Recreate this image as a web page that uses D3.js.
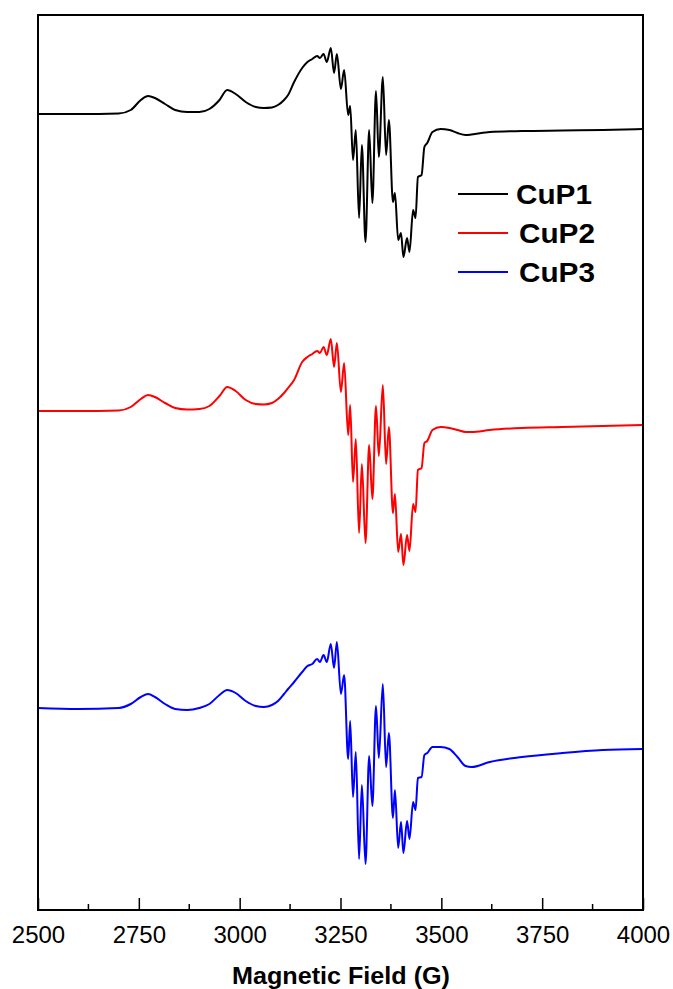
<!DOCTYPE html>
<html>
<head>
<meta charset="utf-8">
<script src="https://cdn.jsdelivr.net/npm/d3@7"></script>
<style>
  body { margin: 0; background: #fff; }
  svg { display: block; font-family: "Liberation Sans", Arial, sans-serif; }
</style>
</head>
<body>
<div id="chart"></div>
<script>
// field grid (G), shared by all three spectra
const fields = [2500, 2600, 2700, 2730, 2755, 2773, 2790, 2815, 2840, 2870, 2900, 2925, 2950, 2969, 2990,
  3015, 3040, 3060, 3080, 3095, 3110, 3120, 3135, 3155, 3168, 3180, 3192, 3199, 3208, 3216, 3226, 3234,
  3241, 3251, 3259, 3269, 3274, 3281, 3288, 3296, 3303, 3312, 3321, 3329, 3338, 3345, 3355, 3363, 3370,
  3380, 3385, 3393, 3400, 3406, 3415, 3421, 3430, 3436, 3442, 3451, 3458, 3465, 3478, 3498, 3520, 3540,
  3560, 3575, 3620, 3700, 3800, 3900, 4000];

// intensities (a.u.), relative to each baseline
const cup1 = [0, 0, 0.5, 4, 14, 18, 16, 10, 4, 2, 2, 5, 14, 24, 20,
  12, 7, 6, 6.5, 9, 14, 19, 32, 46, 52, 55, 58, 56, 60, 52, 66, 41,
  60, 25, 44, -1, 8, -46, -16, -104, -31, -128, -16, -89, 23, -43, 37, -41, -6,
  -88, -79, -126, -119, -143, -124, -138, -96, -104, -63, -61, -33, -29, -18, -15, -16, -19,
  -21, -20.5, -18, -17, -16.5, -16, -15];
const cup2 = [0, 0, 0.5, 4, 12, 16, 14, 8, 3, 1.5, 2, 5, 15, 24, 20,
  11, 7, 6.5, 8, 12, 18, 23, 31, 49, 54, 57, 60, 58, 64, 56, 72, 44,
  68, 19, 48, -24, 6, -71, -28, -122, -53, -132, -34, -88, 5, -45, 26, -53, -16,
  -102, -83, -141, -123, -154, -124, -140, -93, -101, -59, -57, -32, -30, -19, -16, -17, -19,
  -21, -21, -19, -17, -16, -15, -14];
const cup3 = [0, -1, 0, 4, 11, 14, 11, 4, -1, -2, 0, 4, 13, 18, 15,
  7, 2, 1, 3, 7, 14, 19, 26, 36, 42, 44, 49, 46, 53, 46, 64, 40,
  66, 14, 33, -51, -13, -89, -44, -151, -77, -156, -48, -98, 2, -50, 24, -59, -25,
  -110, -82, -140, -114, -145, -113, -131, -94, -102, -70, -69, -47, -45, -39, -39, -41, -49,
  -58, -59, -54, -49, -45, -42, -41];

const seriesNames = ["CuP1", "CuP2", "CuP3"];
const seriesColors = ["#000000", "#ff0000", "#0000ff"];
const seriesOffsets = [796, 499, 202];   // vertical stacking offsets (a.u.)
const xTicks = [2500, 2750, 3000, 3250, 3500, 3750, 4000];

const W = 673, H = 989;
const margin = { left: 38, right: 30, top: 15, bottom: 79 };

const svg = d3.select("#chart").append("svg")
  .attr("width", W).attr("height", H);

const x = d3.scaleLinear().domain([2500, 4000]).range([margin.left, W - margin.right]);
const y = d3.scaleLinear().domain([0, 895]).range([H - margin.bottom, margin.top]);

const allSeries = [cup1, cup2, cup3];

const line = d3.line()
  .x(d => x(d[0]))
  .y(d => y(d[1]))
  .curve(d3.curveMonotoneX);

allSeries.forEach((vals, i) => {
  const pts = fields.map((f, j) => [f, vals[j] + seriesOffsets[i]]);
  svg.append("path")
    .datum(pts)
    .attr("fill", "none")
    .attr("stroke", seriesColors[i])
    .attr("stroke-width", 2)
    .attr("stroke-linejoin", "round")
    .attr("d", line);
});

// frame
svg.append("rect")
  .attr("x", x(2500)).attr("y", y(895))
  .attr("width", x(4000) - x(2500)).attr("height", y(0) - y(895))
  .attr("fill", "none").attr("stroke", "#000").attr("stroke-width", 2);

// bottom axis, ticks inward
const xAxis = d3.axisBottom(x).tickValues(xTicks).tickSize(-12).tickPadding(16).tickFormat(d3.format("d"));
const gx = svg.append("g")
  .attr("transform", `translate(0,${y(0)})`)
  .call(xAxis);
gx.select(".domain").remove();
gx.selectAll(".tick line").attr("stroke-width", 1.5);
gx.selectAll(".tick text").attr("font-size", 24).attr("fill", "#000")
  .attr("font-family", "'Liberation Sans', Arial, sans-serif");

const minor = d3.range(2625, 4000, 250);
gx.selectAll(".minor").data(minor).enter().append("line")
  .attr("x1", d => x(d)).attr("x2", d => x(d))
  .attr("y1", 0).attr("y2", -6)
  .attr("stroke", "#000").attr("stroke-width", 1.5);

svg.append("text")
  .attr("x", 341).attr("y", 984)
  .attr("text-anchor", "middle")
  .attr("font-size", 23).attr("font-weight", "bold")
  .attr("textLength", 218).attr("lengthAdjust", "spacingAndGlyphs")
  .text("Magnetic Field (G)");

// legend
const legend = svg.append("g");
seriesNames.forEach((name, i) => {
  const ly = 194 + i * 39;
  legend.append("line")
    .attr("x1", 458).attr("x2", 508).attr("y1", ly).attr("y2", ly)
    .attr("stroke", seriesColors[i]).attr("stroke-width", 2);
  legend.append("text")
    .attr("x", i === 0 ? 516 : 519).attr("y", ly + 10)
    .attr("font-size", 27).attr("font-weight", "bold")
    .attr("textLength", 76).attr("lengthAdjust", "spacingAndGlyphs")
    .text(name);
});
</script>
</body>
</html>
